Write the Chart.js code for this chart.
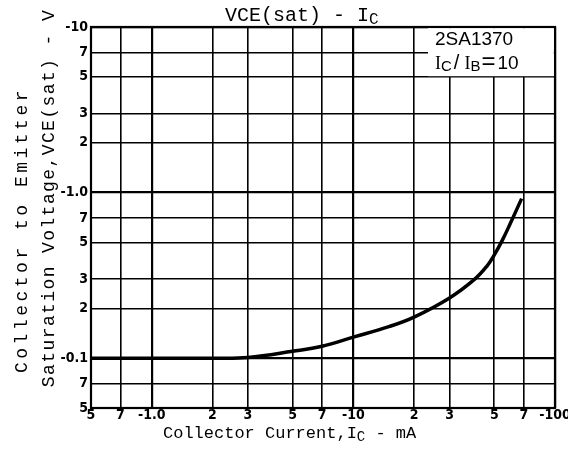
<!DOCTYPE html>
<html>
<head>
<meta charset="utf-8">
<script src="https://cdn.jsdelivr.net/npm/chart.js@4.4.1/dist/chart.umd.min.js"></script>
<style>
  html, body { margin: 0; padding: 0; background: #fff; }
  #wrap { width: 568px; height: 456px; }
</style>
</head>
<body>
<div id="wrap"><canvas id="c" width="568" height="456"></canvas></div>
<script>
/* VCE(sat) - IC, 2SA1370, IC/IB=10 */

// collector current (mA, absolute) and saturation voltage (V, absolute)
var currentMA = [0.5, 1, 2, 3, 5, 7, 10, 15, 20, 30, 40, 46, 50, 55, 60, 68.3];
var vceSat    = [0.100, 0.100, 0.100, 0.101, 0.110, 0.118, 0.134, 0.155, 0.177, 0.231, 0.300, 0.360, 0.420, 0.520, 0.650, 0.919];

// grid / tick positions and their printed labels
var xTicks  = [0.5, 0.7, 1, 2, 3, 5, 7, 10, 20, 30, 50, 70, 100];
var xLabels = ['5', '7', '-1.0', '2', '3', '5', '7', '-10', '2', '3', '5', '7', '-100'];
var yTicks  = [0.05, 0.07, 0.1, 0.2, 0.3, 0.5, 0.7, 1, 2, 3, 5, 7, 10];
var yLabels = ['5', '7', '-0.1', '2', '3', '5', '7', '-1.0', '2', '3', '5', '7', '-10'];

var tickFont = { family: "'Liberation Sans Narrow', 'DejaVu Sans Condensed', 'Liberation Sans', sans-serif", size: 14, weight: 'bold' };
var MONO = "'Liberation Mono', 'DejaVu Sans Mono', monospace";

function isDecade(v) {
  var l = Math.log10(v);
  return Math.abs(l - Math.round(l)) < 1e-6;
}

function gridWidth(ctx) {
  var t = ctx.tick;
  if (!t) return 1.6;
  return isDecade(t.value) ? 2.2 : 1.6;
}

// draws text pieces one after another (for subscripts), returns end x
function drawParts(c, parts, x, y) {
  parts.forEach(function(p) {
    c.font = p.font;
    c.fillText(p.t, x, y + (p.dy || 0));
    x += c.measureText(p.t).width + (p.gap || 0);
  });
  return x;
}

var decor = {
  id: 'decor',
  beforeDraw: function(chart) {
    var c = chart.ctx;
    c.save();
    c.fillStyle = '#fff';
    c.fillRect(0, 0, chart.width, chart.height);
    c.restore();
  },
  afterDatasetsDraw: function(chart) {
    var c = chart.ctx, a = chart.chartArea;
    c.save();

    // frame
    c.strokeStyle = '#000';
    c.lineWidth = 2.2;
    c.strokeRect(a.left, a.top, a.right - a.left, a.bottom - a.top);

    // device box in upper right
    c.fillStyle = '#fff';
    c.fillRect(428, a.top + 1.2, a.right - 428 - 1.2, 48);
    c.fillStyle = '#000';
    c.textBaseline = 'alphabetic';
    c.textAlign = 'left';
    c.font = "19px 'Liberation Sans', sans-serif";
    c.fillText('2SA1370', 435, 45);
    drawParts(c, [
      { t: 'I', font: "18px 'Liberation Serif', serif" },
      { t: 'C', font: "15px 'Liberation Sans', sans-serif", dy: 2, gap: 2 },
      { t: '/', font: "20px 'Liberation Sans', sans-serif", gap: 5 },
      { t: 'I', font: "18px 'Liberation Serif', serif" },
      { t: 'B', font: "15px 'Liberation Sans', sans-serif", dy: 2, gap: 1 },
      { t: '=', font: "24px 'Liberation Sans', sans-serif", gap: 2 },
      { t: '10', font: "19px 'Liberation Sans', sans-serif" }
    ], 435, 69);

    // title
    drawParts(c, [
      { t: 'VCE(sat) - I', font: '20px ' + MONO },
      { t: 'C', font: '16px ' + MONO, dy: 3 }
    ], 225, 21);

    // x axis title
    drawParts(c, [
      { t: 'Collector Current,I', font: '17px ' + MONO },
      { t: 'C', font: '14px ' + MONO, dy: 3 },
      { t: ' - mA', font: '17px ' + MONO }
    ], 163, 438);

    // y axis title, two rotated lines
    c.textAlign = 'center';
    c.textBaseline = 'middle';
    c.font = '18px ' + MONO;
    c.save();
    c.translate(22, 230);
    c.rotate(-Math.PI / 2);
    c.letterSpacing = '3.5px';
    c.fillText('Collector to Emitter', 0, 0);
    c.restore();
    c.save();
    c.translate(49, 198);
    c.rotate(-Math.PI / 2);
    c.letterSpacing = '1.4px';
    c.fillText('Saturation Voltage,VCE(sat) - V', 0, 0);
    c.restore();

    c.restore();
  }
};

var points = currentMA.map(function(x, i) { return { x: x, y: vceSat[i] }; });

new Chart(document.getElementById('c'), {
  type: 'line',
  data: {
    datasets: [{
      data: points,
      borderColor: '#000',
      borderWidth: 3.5,
      pointRadius: 0,
      fill: false,
      tension: 0.4
    }]
  },
  options: {
    responsive: false,
    animation: false,
    layout: { padding: { left: 0, right: 13, top: 27, bottom: 0 } },
    plugins: { legend: { display: false }, tooltip: { enabled: false }, title: { display: false } },
    scales: {
      x: {
        type: 'logarithmic', min: 0.5, max: 100,
        afterBuildTicks: function(s) { s.ticks = xTicks.map(function(v) { return { value: v }; }); },
        afterFit: function(s) { s.height = 48; s.paddingLeft = 0; s.paddingRight = 0; },
        ticks: {
          autoSkip: false, maxRotation: 0, minRotation: 0, color: '#000', font: tickFont, padding: -1,
          callback: function(v, i) { return xLabels[i]; }
        },
        grid: { color: '#000', lineWidth: gridWidth, drawTicks: false },
        border: { display: false }
      },
      y: {
        type: 'logarithmic', min: 0.05, max: 10,
        afterBuildTicks: function(s) { s.ticks = yTicks.map(function(v) { return { value: v }; }); },
        afterFit: function(s) { s.width = 91; s.paddingTop = 0; s.paddingBottom = 0; },
        ticks: {
          autoSkip: false, color: '#000', font: tickFont, padding: 3,
          callback: function(v, i) { return yLabels[i]; }
        },
        grid: { color: '#000', lineWidth: gridWidth, drawTicks: false },
        border: { display: false }
      }
    }
  },
  plugins: [decor]
});
</script>
</body>
</html>
